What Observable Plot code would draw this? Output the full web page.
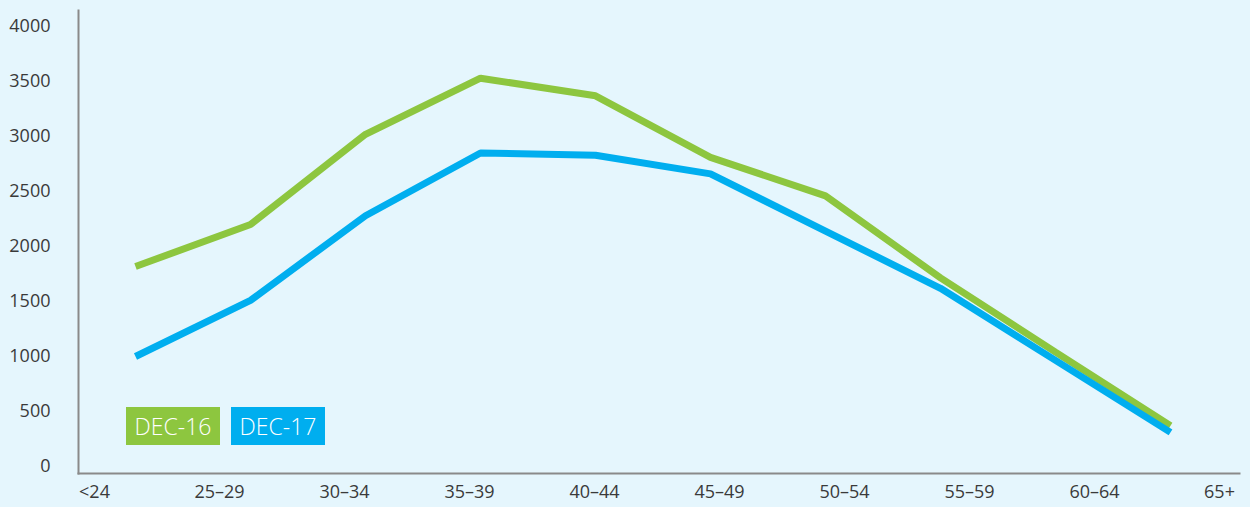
<!DOCTYPE html>
<html>
<head>
<meta charset="utf-8">
<script src="https://cdn.jsdelivr.net/npm/d3@7"></script>
<script src="https://cdn.jsdelivr.net/npm/@observablehq/plot@0.6"></script>
<style>
  html, body { margin: 0; padding: 0; background: #e5f6fd; }
  #wrap { position: relative; width: 1250px; height: 507px; overflow: hidden; background: #e5f6fd; }
  #wrap > svg, #wrap > figure { position: absolute; left: 0; top: 0; margin: 0; }
  .leg { position: absolute; height: 38px; color: #fff; font-family: "Open Sans", sans-serif; font-weight: 300;
         font-size: 23px; line-height: 38px; text-align: center; }
</style>
</head>
<body>
<div id="wrap"></div>
<script>
const ages = ["<24", "25–29", "30–34", "35–39", "40–44", "45–49", "50–54", "55–59", "60–64", "65+"];
const dec16 = [1818, 2200, 3020, 3530, 3370, 2810, 2460, 1715, 1040, 370];
const dec17 = [1000, 1510, 2280, 2850, 2830, 2660, 2140, 1620, 965, 310];
const seriesNames = ["DEC-16", "DEC-17"];
const seriesColors = ["#8dc63f", "#00aeef"];
const yTicks = [0, 500, 1000, 1500, 2000, 2500, 3000, 3500, 4000];

const table = [
  ...ages.map((a, i) => ({age: a, value: dec16[i], series: seriesNames[0]})),
  ...ages.map((a, i) => ({age: a, value: dec17[i], series: seriesNames[1]}))
];

const font = "'Open Sans', sans-serif";
const common = {
  width: 1250, height: 507,
  marginLeft: 78, marginRight: 11, marginTop: 10, marginBottom: 34,
  style: {background: "transparent", fontFamily: font, fontSize: "18px", color: "#3a3a3a", overflow: "visible"},
  y: {domain: [0, 4000], range: [466, 26], axis: null}
};

const axes = Plot.plot({
  ...common,
  x: {type: "point", domain: ages, range: [90, 1222], padding: 0, axis: null},
  marks: [
    Plot.axisY(yTicks, {tickSize: 0, tickPadding: 28, label: null, tickFormat: d => String(d), fill: "#3a3a3a", fontSize: 18}),
    Plot.axisX(ages, {tickSize: 0, tickPadding: 12, label: null, fill: "#3a3a3a", fontSize: 18}),
    Plot.frame({anchor: "left", stroke: "#8a8a8a", strokeWidth: 2}),
    Plot.frame({anchor: "bottom", stroke: "#8a8a8a", strokeWidth: 2})
  ]
});

const lines = Plot.plot({
  ...common,
  x: {type: "point", domain: ages, range: [133, 1172], padding: 0, axis: null},
  color: {domain: seriesNames, range: seriesColors},
  marks: [
    Plot.line(table, {x: "age", y: "value", z: "series", stroke: "series", strokeWidth: 7,
                      strokeLinecap: "butt", strokeLinejoin: "miter"})
  ]
});

const wrap = document.getElementById("wrap");
wrap.appendChild(axes);
wrap.appendChild(lines);

const legPos = [[126, 94], [231, 94]];
seriesNames.forEach((name, i) => {
  const d = document.createElement("div");
  d.className = "leg";
  d.textContent = name;
  d.style.background = seriesColors[i];
  d.style.left = legPos[i][0] + "px";
  d.style.width = legPos[i][1] + "px";
  d.style.top = "407px";
  wrap.appendChild(d);
});
</script>
</body>
</html>
